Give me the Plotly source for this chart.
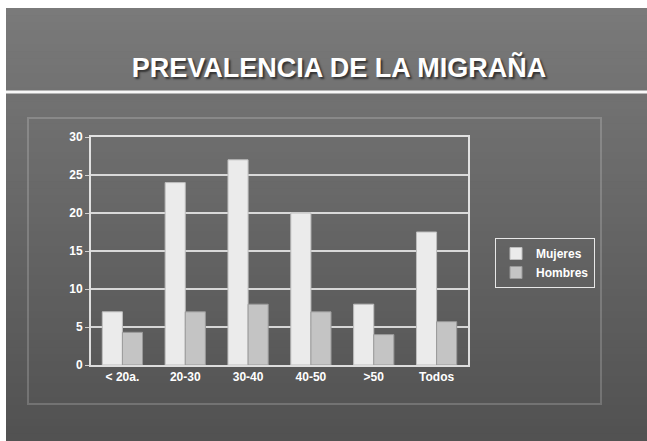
import plotly.graph_objects as go

categorias = ["< 20a.", "20-30", "30-40", "40-50", ">50", "Todos"]
mujeres = [7, 24, 27, 20, 8, 17.5]
hombres = [4.3, 7, 8, 7, 4, 5.7]
y_ticks = [0, 5, 10, 15, 20, 25, 30]

W, H = 647, 441
PL, PR, PT, PB = 91, 468, 137, 365


def px(x):
    return (x - PL) / (PR - PL)


def py(y):
    return (PB - y) / (PB - PT)


fig = go.Figure()
fig.add_trace(go.Bar(name="Mujeres", x=categorias, y=mujeres,
                     marker=dict(color="#ebebeb", line=dict(color="#bdbdbd", width=1))))
fig.add_trace(go.Bar(name="Hombres", x=categorias, y=hombres,
                     marker=dict(color="#c4c4c4", line=dict(color="#9a9a9a", width=1))))

shapes = []
# background gradient
n = 60
top, bot = 8, H
for i in range(n):
    y0 = top + (bot - top) * i / n
    y1 = top + (bot - top) * (i + 1) / n + 3
    t = i / (n - 1)
    c = int(122 - 40 * t)
    shapes.append(dict(type="rect", xref="paper", yref="paper", layer="below",
                       x0=px(6), x1=px(W + 2), y0=py(min(y1, H + 2)), y1=py(y0),
                       fillcolor=f"rgb({c},{c},{c})", line=dict(width=0)))
# separator line under title
shapes.append(dict(type="line", xref="paper", yref="paper", layer="below",
                   x0=px(6), x1=px(W + 2), y0=py(92), y1=py(92),
                   line=dict(color="rgba(255,255,255,0.95)", width=3)))
# chart area frame
shapes.append(dict(type="rect", xref="paper", yref="paper", layer="below",
                   x0=px(28), x1=px(601), y0=py(404), y1=py(118),
                   line=dict(color="rgba(255,255,255,0.18)", width=2)))

fig.update_layout(
    width=W, height=H,
    margin=dict(l=PL, r=W - PR, t=PT, b=H - PB),
    paper_bgcolor="white", plot_bgcolor="rgba(0,0,0,0)",
    barmode="group", bargap=0.36, bargroupgap=0,
    shapes=shapes,
    title=dict(text="<b>PREVALENCIA DE LA MIGRAÑA</b>", x=0.524, xanchor="center",
               y=1 - 68 / H, yanchor="middle",
               font=dict(family="Liberation Sans, Arial", size=27, color="white",
                         shadow="2px 2px 2px #333")),
    font=dict(family="Liberation Sans, Arial", color="white"),
    legend=dict(x=px(495), y=py(238), xanchor="left", yanchor="top",
                bgcolor="rgba(0,0,0,0)", bordercolor="rgba(255,255,255,0.85)", borderwidth=1,
                font=dict(size=12, color="white", family="Liberation Sans, Arial", weight="bold"),
                itemwidth=30, tracegroupgap=2),
    showlegend=True,
)
fig.update_xaxes(showgrid=False, showline=True, linecolor="rgba(255,255,255,0.8)", linewidth=2,
                 mirror=True, ticks="", tickfont=dict(size=12, color="white", weight="bold"))
fig.update_yaxes(range=[0, 30], tickvals=y_ticks, showgrid=True,
                 gridcolor="rgba(255,255,255,0.75)", gridwidth=2,
                 showline=True, linecolor="rgba(255,255,255,0.8)", linewidth=2, mirror=True,
                 zeroline=False, ticks="outside", ticklen=4, tickcolor="rgba(255,255,255,0.7)",
                 tickfont=dict(size=12, color="white", weight="bold"))

fig.write_html("out.html")
